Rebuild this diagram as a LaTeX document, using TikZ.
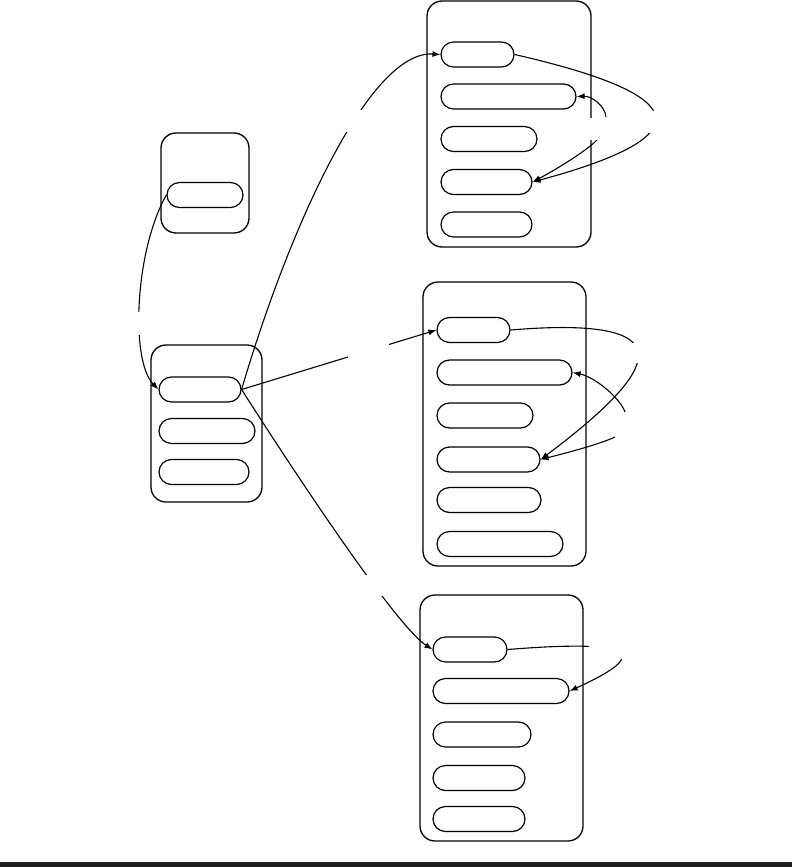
\documentclass[tikz,border=0pt]{standalone}
\usepackage{tikz}
\usetikzlibrary{arrows.meta}

\tikzset{
  frame/.style={draw, rounded corners=15pt, line width=1.3pt, inner sep=0pt},
  pill/.style={draw, rounded corners=12.5pt, line width=1.2pt, minimum height=25pt, inner sep=0pt},
  link/.style={line width=1.1pt}
}

\begin{document}
\begin{tikzpicture}[>={Latex[length=8pt, width=6pt]}, x=1pt, y=-1pt]

\useasboundingbox (0,0) rectangle (792,867);

\node[frame, minimum width=88pt, minimum height=100pt] (small) at (205,183) {};
\node[pill, minimum width=76pt] (s1) at (205,195) {};

\node[frame, minimum width=111pt, minimum height=157pt] (left) at (206.5,423.5) {};
\node[pill, minimum width=82pt] (l1) at (200,389.5) {};
\node[pill, minimum width=96pt] (l2) at (207,431) {};
\node[pill, minimum width=90pt] (l3) at (204,472) {};

\node[frame, minimum width=164pt, minimum height=246pt] (upper) at (509,124) {};
\node[pill, minimum width=73pt] (a1) at (477.5,54.5) {};
\node[pill, minimum width=135pt] (a2) at (508.5,96.5) {};
\node[pill, minimum width=96pt] (a3) at (489,139) {};
\node[pill, minimum width=91pt] (a4) at (486.5,182) {};
\node[pill, minimum width=91pt] (a5) at (486.5,224.5) {};

\node[frame, minimum width=163pt, minimum height=284pt] (middle) at (504.5,424) {};
\node[pill, minimum width=73pt] (b1) at (473.5,330) {};
\node[pill, minimum width=135pt] (b2) at (504.5,372.5) {};
\node[pill, minimum width=96pt] (b3) at (485,415.5) {};
\node[pill, minimum width=103pt] (b4) at (488.5,459.5) {};
\node[pill, minimum width=104pt] (b5) at (489,500) {};
\node[pill, minimum width=126pt] (b6) at (500,544) {};

\node[frame, minimum width=163pt, minimum height=246pt] (lower) at (501.5,718) {};
\node[pill, minimum width=74pt] (c1) at (470,649.5) {};
\node[pill, minimum width=136pt] (c2) at (501,691) {};
\node[pill, minimum width=98pt] (c3) at (482,734.5) {};
\node[pill, minimum width=92pt] (c4) at (479,778) {};
\node[pill, minimum width=92pt] (c5) at (479,819) {};

\coordinate (tA) at (606,117);
\coordinate (tB) at (597,140);
\coordinate (tC) at (625,412);
\coordinate (tD) at (615,437);

\draw[black, link, ->] (s1.west) .. controls (135,250) and (130,360) .. (l1.west);
\draw[black, link, ->] (l1.east) .. controls (290,225) and (370,50) .. (a1.west);
\draw[black, link, ->] (l1.east) -- (b1.west);
\draw[black, link, ->] (l1.east) .. controls (291,467) and (395,625) .. (c1.west);

\draw[black, link, ->] (a1.east) .. controls +(175,40) and +(174,-47) .. (a4.east);
\draw[black, link, ->] (tA) .. controls (605,106) and (592,96) .. (a2.east);
\draw[black, link, ->] (tB) .. controls (585,152) and (555,170) .. (a4.east);

\draw[black, link, ->] (b1.east) .. controls (690,315) and (660,370) .. (b4.east);
\draw[black, link, ->] (tC) .. controls (620,398) and (595,377) .. (b2.east);
\draw[black, link, ->] (tD) .. controls (600,444) and (570,452) .. (b4.east);

\draw[black, link, ->] (c1.east) .. controls (625,640) and (660,650) .. (c2.east);

% blank spots on the lines
\fill[white] (125,312) rectangle (150,335);
\fill[white] (335,110) rectangle (370,132);
\fill[white] (348,335) rectangle (389,370);
\fill[white] (350,575) rectangle (392,596);
\fill[white] (586,117.5) rectangle (640,139.5);
\fill[white] (640,111) rectangle (662,133);
\fill[white] (600,343) rectangle (645,363);
\fill[white] (589,636) rectangle (628,659);

\fill[black!88] (0,862) rectangle (792,867);

\end{tikzpicture}
\end{document}
